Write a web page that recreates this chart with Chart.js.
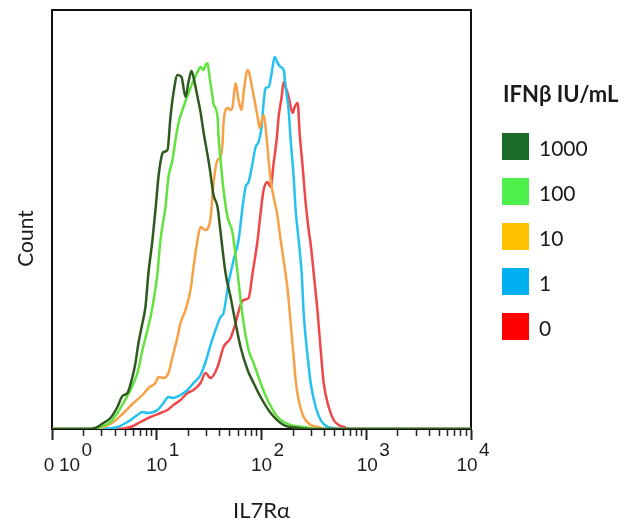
<!DOCTYPE html>
<html>
<head>
<meta charset="utf-8">
<script src="https://cdn.jsdelivr.net/npm/chart.js@4/dist/chart.umd.min.js"></script>
<style>
html,body{margin:0;padding:0;background:#ffffff;}
#wrap{position:relative;width:633px;height:523px;overflow:hidden;}
#c{position:absolute;left:0;top:0;}
#legend{position:absolute;left:0;top:0;width:633px;height:523px;font-family:Lato,"Open Sans",sans-serif;color:#1a1a1a;pointer-events:none;}
.ltitle{position:absolute;left:503px;top:83px;font-weight:bold;font-size:22px;line-height:22px;white-space:nowrap;}
.lrow{position:absolute;left:502px;height:27px;white-space:nowrap;}
.lbox{position:absolute;left:0;top:0;width:27px;height:27px;}
.ltext{position:absolute;left:37px;top:1px;font-size:21px;line-height:27px;}
</style>
</head>
<body>
<div id="wrap">
  <canvas id="c" width="633" height="523"></canvas>
  <div id="legend"></div>
</div>
<script>
// ---------------- data ----------------
const seriesNames = ['1000', '100', '10', '1', '0'];
const legendTitle = 'IFNβ IU/mL';
const xTitle = 'IL7Rα';
const yTitle = 'Count';

const xMajorTicks = [1, 10, 100, 1000, 10000];
const xTickBases = ['10', '10', '10', '10', '10'];
const xTickExponents = ['0', '1', '2', '3', '4'];
const xZeroLabel = '0';
const xMinorMultipliers = [2, 3, 4, 5, 6, 7, 8, 9];

// IFNβ 1000 IU/mL
const x1000 = [1, 2.22, 2.59, 3.09, 3.61, 4.21, 4.70, 5.25, 5.86, 6.26, 6.69, 7.30, 7.80, 8.33, 9.10, 9.72, 10.38, 11.09, 11.59, 12.66, 13.52, 14.44, 15.78, 17.23, 18.81, 20.10, 21.47, 22.94, 24.50, 26.17, 27.96, 30.54, 31.91, 34.85, 38.05, 40.64, 45.37, 50.65, 56.55, 63.13, 73.65, 84.05, 98.04, 122.2, 162.7, 221.4, 294.7, 10000];
const y1000 = [0, 0, 1, 6, 11, 22, 33, 36, 52, 66, 86, 106, 122, 156, 189, 219, 252, 272, 277, 279, 312, 336, 354, 352, 332, 347, 358, 347, 332, 317, 297, 274, 262, 234, 222, 197, 156, 132, 106, 82, 59, 46, 32, 16, 4, 1, 0, 0];

// IFNβ 100 IU/mL
const x100 = [1, 2.43, 2.90, 3.61, 4.21, 4.81, 5.61, 6.54, 7.30, 8.15, 9.10, 10.16, 10.85, 12.11, 12.94, 14.13, 15.10, 16.13, 18.00, 20.10, 21.95, 24.50, 26.17, 27.96, 29.22, 30.54, 31.91, 34.09, 34.85, 38.05, 38.90, 40.64, 43.42, 47.42, 52.93, 59.10, 63.13, 67.45, 75.29, 84.05, 98.04, 114.3, 142.6, 189.8, 252.7, 329.0, 10000];
const y100 = [0, 0, 2, 7, 16, 26, 39, 56, 79, 99, 122, 156, 189, 222, 252, 269, 289, 306, 322, 336, 346, 357, 362, 359, 364, 366, 352, 332, 325, 312, 292, 269, 239, 212, 196, 156, 129, 106, 79, 66, 46, 29, 12, 4, 2, 0, 0];

// IFNβ 10 IU/mL
const x10 = [1, 2.32, 3.09, 3.86, 4.81, 5.99, 7.30, 8.33, 9.72, 10.38, 11.59, 12.94, 14.13, 15.78, 16.85, 18.81, 21.00, 22.44, 24.50, 26.17, 29.22, 32.62, 34.85, 38.05, 40.64, 42.47, 43.42, 47.42, 50.65, 52.93, 56.55, 60.42, 64.54, 67.45, 73.65, 82.22, 91.78, 95.92, 104.7, 111.8, 116.9, 122.2, 130.6, 142.6, 152.3, 162.7, 177.7, 189.8, 202.8, 211.8, 226.3, 252.7, 294.7, 343.8, 410.0, 10000];
const y10 = [0, 0, 2, 7, 16, 26, 34, 41, 46, 52, 51, 56, 72, 92, 106, 119, 139, 162, 189, 202, 199, 211, 246, 269, 272, 286, 306, 321, 319, 322, 346, 329, 319, 336, 359, 339, 312, 301, 314, 292, 269, 249, 232, 212, 189, 169, 139, 106, 72, 49, 29, 12, 4, 2, 0, 0];

// IFNβ 1 IU/mL
const x1 = [1, 2.90, 4.21, 5.25, 6.54, 7.30, 8.15, 10.16, 11.59, 12.94, 14.44, 16.85, 19.66, 22.44, 26.17, 29.22, 32.62, 36.41, 40.64, 43.42, 48.47, 54.11, 60.42, 65.98, 70.47, 75.29, 82.22, 87.82, 93.83, 100.2, 104.7, 109.4, 116.9, 127.7, 133.5, 142.6, 152.3, 162.7, 170.0, 181.6, 189.8, 202.8, 211.8, 226.3, 241.8, 252.7, 275.9, 294.7, 329.0, 367.3, 428.5, 489.0, 570.4, 10000];
const y1 = [0, 0, 2, 7, 14, 17, 16, 19, 26, 32, 31, 34, 39, 46, 54, 67, 84, 99, 112, 116, 146, 169, 189, 222, 242, 247, 266, 282, 287, 302, 326, 341, 342, 362, 372, 366, 362, 359, 342, 319, 289, 252, 219, 189, 156, 116, 72, 46, 22, 9, 2, 1, 0, 0];

// IFNβ 0 IU/mL
const x0 = [1, 4.03, 5.61, 6.99, 8.71, 10.85, 12.66, 14.44, 16.85, 19.66, 22.44, 26.17, 29.22, 32.62, 38.05, 43.42, 50.65, 56.55, 63.13, 67.45, 75.29, 82.22, 91.78, 98.04, 104.7, 114.3, 122.2, 130.6, 139.4, 145.7, 155.7, 162.7, 170.0, 181.6, 198.4, 207.3, 221.4, 231.3, 247.2, 264.0, 282.1, 294.7, 314.9, 343.8, 367.3, 392.4, 438.0, 489.0, 546.0, 609.4, 710.9, 10000];
const y0 = [0, 0, 2, 7, 12, 16, 19, 24, 29, 36, 39, 46, 56, 51, 62, 82, 91, 106, 124, 129, 131, 156, 189, 216, 239, 247, 242, 266, 289, 312, 332, 347, 342, 332, 316, 322, 326, 296, 262, 226, 199, 185, 156, 116, 79, 46, 22, 9, 4, 2, 0, 0];

const yMax = 419;

// ---------------- styles ----------------
const lineColors   = ['#2f5a1f', '#62e23f', '#f8a146', '#25c1ef', '#f14649'];
const legendColors = ['#1b6b28', '#4ef04b', '#ffc000', '#00b0f0', '#ff0000'];
const LBL = { baseY: 471, supY: 455.5, zeroDx: -3, dx: [17.5, 0, 0, 1, -4], supGap: 1.5,
              font: '19px "Liberation Sans", Arial, sans-serif', color: '#1e1e1e' };

// ---------------- chart ----------------
const seriesX = [x1000, x100, x10, x1, x0];
const seriesY = [y1000, y100, y10, y1, y0];

const datasets = seriesNames.map((name, i) => ({
  label: name,
  data: seriesX[i].map((x, j) => ({ x: x, y: seriesY[i][j] })),
  borderColor: lineColors[i],
  backgroundColor: legendColors[i],
  borderWidth: 2.5,
  pointRadius: 0,
  fill: false,
  cubicInterpolationMode: 'monotone'
}));

const xTickValues = [];
xMajorTicks.forEach((m, i) => {
  xTickValues.push(m);
  if (i < xMajorTicks.length - 1) xMinorMultipliers.forEach(k => xTickValues.push(m * k));
});
const isMajor = t => !!t && xMajorTicks.indexOf(t.value) >= 0;

const tickLabelPlugin = {
  id: 'tickLabels',
  afterDraw(chart) {
    const xs = chart.scales.x;
    const ctx = chart.ctx;
    ctx.save();
    ctx.fillStyle = LBL.color;
    ctx.font = LBL.font;
    ctx.textBaseline = 'alphabetic';
    ctx.textAlign = 'center';
    ctx.fillText(xZeroLabel, xs.getPixelForValue(xMajorTicks[0]) + LBL.zeroDx, LBL.baseY);
    xMajorTicks.forEach((v, i) => {
      const cx = xs.getPixelForValue(v) + LBL.dx[i];
      ctx.textAlign = 'center';
      ctx.fillText(xTickBases[i], cx, LBL.baseY);
      const w = ctx.measureText(xTickBases[i]).width;
      ctx.textAlign = 'left';
      ctx.fillText(xTickExponents[i], cx + w / 2 + LBL.supGap, LBL.supY);
    });
    ctx.restore();
  }
};

const frameBorder = { display: true, color: '#111111', width: 2 };
const noBorder = { display: false };
const hiddenGrid = { display: true, drawOnChartArea: false, drawTicks: false };

new Chart(document.getElementById('c'), {
  type: 'line',
  data: { datasets: datasets },
  options: {
    responsive: false,
    animation: false,
    devicePixelRatio: 1,
    layout: { padding: { left: 0, top: 0, right: 162, bottom: 0 } },
    plugins: { legend: { display: false }, tooltip: { enabled: false } },
    scales: {
      x: {
        type: 'logarithmic',
        position: 'bottom',
        min: 1, max: 10000,
        afterBuildTicks: s => { s.ticks = xTickValues.map(v => ({ value: v })); },
        afterFit: s => { s.height = 94; },
        ticks: { display: false },
        grid: {
          display: true, drawOnChartArea: false, drawTicks: true, tickLength: 11,
          tickColor: '#222222',
          tickWidth: c => isMajor(c.tick) ? 2 : 1.5,
          tickBorderDash: c => isMajor(c.tick) ? [] : [6, 40]
        },
        border: frameBorder,
        title: { display: true, text: xTitle, color: '#1a1a1a',
                 font: { family: 'Lato', size: 22, lineHeight: 1.1 }, padding: { top: 0, bottom: 0 } }
      },
      y: {
        type: 'linear',
        position: 'left',
        weight: 0,
        min: 0, max: yMax,
        afterFit: s => { s.width = 0; },
        ticks: { display: false },
        grid: hiddenGrid,
        border: frameBorder
      },
      yPad: {
        type: 'linear', position: 'left', axis: 'y',
        stack: 'ytitle', stackWeight: 38, weight: 2,
        afterFit: s => { s.width = 52; },
        ticks: { display: false }, grid: hiddenGrid, border: noBorder
      },
      yT: {
        type: 'linear', position: 'left', axis: 'y',
        stack: 'ytitle', stackWeight: 381, weight: 1,
        afterFit: s => { s.width = 52; },
        ticks: { display: false }, grid: hiddenGrid, border: noBorder,
        title: { display: true, text: yTitle, color: '#1a1a1a',
                 font: { family: 'Lato', size: 21 }, padding: { top: 14, bottom: 0 } }
      },
      x2: {
        type: 'linear', position: 'top',
        afterFit: s => { s.height = 10; },
        ticks: { display: false }, grid: hiddenGrid, border: frameBorder
      },
      y2: {
        type: 'linear', position: 'right',
        afterFit: s => { s.width = 0; },
        ticks: { display: false }, grid: hiddenGrid, border: frameBorder
      }
    }
  },
  plugins: [tickLabelPlugin]
});

// ---------------- legend ----------------
const legendEl = document.getElementById('legend');
const t = document.createElement('div');
t.className = 'ltitle';
t.textContent = legendTitle;
legendEl.appendChild(t);
seriesNames.forEach((name, i) => {
  const row = document.createElement('div');
  row.className = 'lrow';
  row.style.top = (133 + 45 * i) + 'px';
  const box = document.createElement('div');
  box.className = 'lbox';
  box.style.background = legendColors[i];
  const txt = document.createElement('div');
  txt.className = 'ltext';
  txt.textContent = name;
  row.appendChild(box);
  row.appendChild(txt);
  legendEl.appendChild(row);
});
</script>
</body>
</html>
